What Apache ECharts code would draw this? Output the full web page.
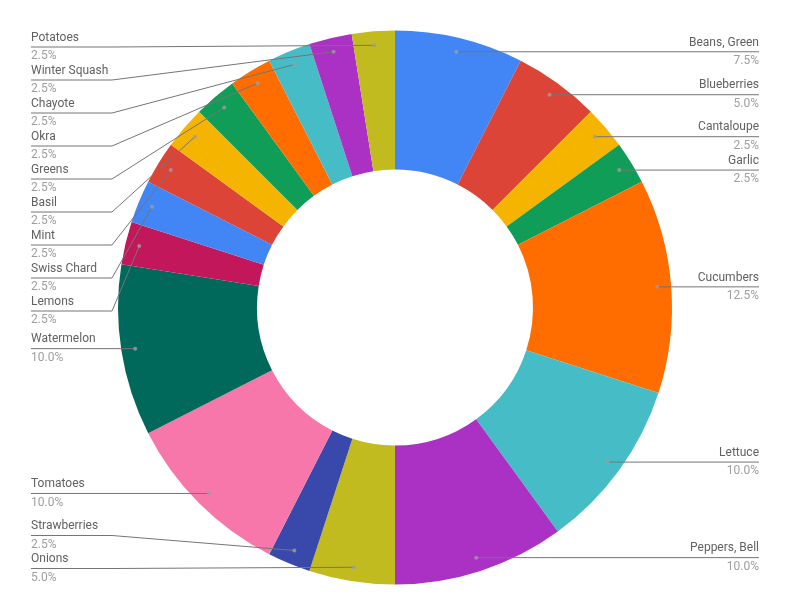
<!DOCTYPE html>
<html><head><meta charset="utf-8">
<script src="https://cdn.jsdelivr.net/npm/echarts@6/dist/echarts.min.js"></script>
<style>html,body{margin:0;padding:0;background:#fff}#c{width:790px;height:616px}</style>
</head><body><div id="c"></div>
<script>
const categories = ['Beans, Green','Blueberries','Cantaloupe','Garlic','Cucumbers','Lettuce','Peppers, Bell','Onions','Strawberries','Tomatoes','Watermelon','Lemons','Swiss Chard','Mint','Basil','Greens','Okra','Chayote','Winter Squash','Potatoes'];
const values = [3,2,1,1,5,4,4,2,1,4,4,1,1,1,1,1,1,1,1,1];
const colors = ['#4285F4','#DB4437','#F4B400','#0F9D58','#FF6D00','#46BDC6','#AB30C4','#C2BB20','#3949AB','#F877AA','#00695C','#C2185B'];

const W = 790, CX = 395, CY = 307.5, R_OUT = 277, R_IN = 138, R_DOT = 263, EDGE = 31, ELBOW = 112;
const LABEL_H = 33, LABEL_TOP = 30.5, LABEL_BOTTOM = 585;
const chart = echarts.init(document.getElementById('c'), null, {renderer: 'canvas'});
const total = values.reduce((a, b) => a + b, 0);
let acc = 0;
const mids = values.map(v => { const m = acc + v / 2; acc += v; return m; });
const dots = mids.map(m => [R_DOT, m]);
const pieData = categories.map((n, i) => ({name: n, value: values[i]}));
const FONT = 'Roboto';

// Label stacking: each label starts at the height of its slice's anchor and is pushed apart from its neighbours.
const labelY = new Array(values.length);
const labelLeft = new Array(values.length);
(function stack() {
  const sides = {l: [], r: []};
  mids.forEach((m, i) => {
    const a = m / total * 2 * Math.PI;
    const left = Math.sin(a) < 0;
    labelLeft[i] = left;
    sides[left ? 'l' : 'r'].push({i: i, y: CY - R_DOT * Math.cos(a)});
  });
  Object.values(sides).forEach(list => {
    list.sort((a, b) => a.y - b.y);
    let last = LABEL_TOP + LABEL_H / 2 - LABEL_H;
    list.forEach(it => { it.y = Math.max(it.y, last + LABEL_H); last = it.y; });
    let next = LABEL_BOTTOM - LABEL_H / 2 + LABEL_H;
    for (let k = list.length - 1; k >= 0; k--) { list[k].y = Math.min(list[k].y, next - LABEL_H); next = list[k].y; }
    list.forEach(it => { labelY[it.i] = it.y; });
  });
})();

const option = {
  animation: false,
  color: colors,
  polar: {center: [CX, CY], radius: R_OUT},
  angleAxis: {type: 'value', min: 0, max: total, startAngle: 90, clockwise: true, show: false},
  radiusAxis: {type: 'value', min: 0, max: R_OUT, show: false},
  series: [
    {
      type: 'pie', center: [CX, CY], radius: [R_IN, R_OUT], data: pieData,
      startAngle: 90, clockwise: true, silent: true, z: 1,
      label: {show: false}, labelLine: {show: false},
      itemStyle: {borderWidth: 0}
    },
    {
      type: 'pie', center: [CX, CY], radius: [0, R_DOT], data: pieData,
      startAngle: 90, clockwise: true, silent: true, percentPrecision: 1, z: 3,
      itemStyle: {color: 'rgba(0,0,0,0)', borderWidth: 0},
      label: {
        show: true, position: 'outer', alignTo: 'edge', edgeDistance: EDGE, distanceToLabelLine: 0,
        overflow: 'none', fontFamily: FONT,
        formatter: p => '{n|' + p.name + '}\n{p|' + p.percent.toFixed(1) + '%}',
        rich: {
          n: {fontFamily: FONT, fontSize: 12, color: '#616161', lineHeight: 18.5},
          p: {fontFamily: FONT, fontSize: 12, color: '#9E9E9E', lineHeight: 18.5}
        }
      },
      labelLine: {show: true, length: 0, length2: 8, lineStyle: {color: '#757575', width: 1}},
      labelLayout: function (p) {
        const i = p.dataIndex;
        const left = labelLeft[i];
        const y = labelY[i];
        const res = {x: left ? EDGE : W - EDGE, y: y, align: left ? 'left' : 'right', verticalAlign: 'middle'};
        if (p.labelLinePoints && p.labelLinePoints.length) {
          const p0 = p.labelLinePoints[0];
          res.labelLinePoints = [[p0[0], p0[1]], [left ? ELBOW : W - ELBOW, y], [left ? EDGE : W - EDGE, y]];
        }
        return res;
      }
    },
    {
      type: 'scatter', coordinateSystem: 'polar', data: dots, symbolSize: 4, silent: true,
      itemStyle: {color: '#9E9E9E'}, z: 5
    }
  ]
};
chart.setOption(option);
</script>
</body></html>
